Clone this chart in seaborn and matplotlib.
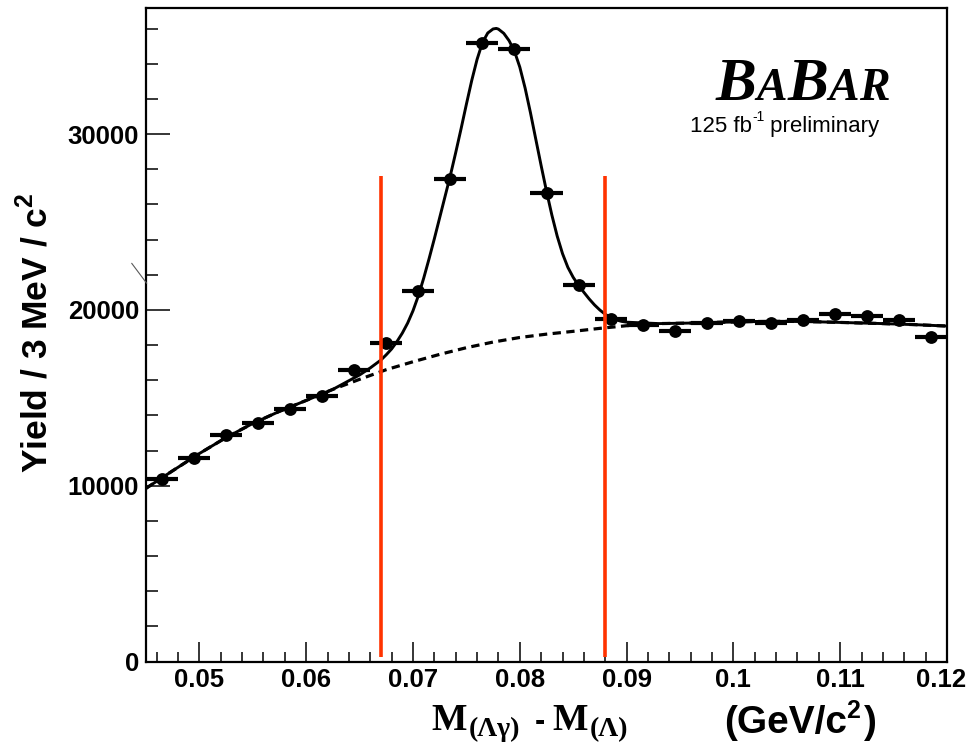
import numpy as np
import pandas as pd
import matplotlib
matplotlib.use('Agg')
import matplotlib.pyplot as plt
from matplotlib.ticker import MultipleLocator
from matplotlib.transforms import IdentityTransform, ScaledTranslation
from matplotlib.lines import Line2D
import seaborn as sns

# --- values ---
bin_centers = [0.0465, 0.0495, 0.0525, 0.0555, 0.0585, 0.0615, 0.0645, 0.0675,
               0.0705, 0.0735, 0.0765, 0.0795, 0.0825, 0.0855, 0.0885, 0.0915,
               0.0945, 0.0975, 0.1005, 0.1035, 0.1065, 0.1095, 0.1125, 0.1155, 0.1185]
yields = [10390, 11580, 12890, 13590, 14360, 15120, 16590, 18110,
          21100, 27420, 35200, 34820, 26660, 21410, 19510, 19130,
          18800, 19230, 19370, 19230, 19450, 19760, 19660, 19450, 18430]
bin_half_width = 0.0015

# fitted total (signal + background), solid curve
fit_x = [0.0450, 0.0475, 0.0500, 0.0525, 0.0550, 0.0575, 0.0600, 0.0625, 0.0650,
         0.0660, 0.0670, 0.0675, 0.0680, 0.0685, 0.0690, 0.0695, 0.0700, 0.0705,
         0.0710, 0.0715, 0.0720, 0.0725, 0.0730, 0.0735, 0.0740, 0.0745, 0.0750,
         0.0755, 0.0760, 0.0765, 0.0770, 0.0775, 0.0778, 0.0780, 0.0785, 0.0790,
         0.0795, 0.0800, 0.0805, 0.0810, 0.0815, 0.0820, 0.0825, 0.0830, 0.0835,
         0.0840, 0.0845, 0.0850, 0.0855, 0.0860, 0.0865, 0.0870, 0.0875, 0.0880,
         0.0885, 0.0890, 0.0895, 0.0900, 0.0930, 0.0960, 0.0990, 0.1020, 0.1050,
         0.1080, 0.1110, 0.1140, 0.1170, 0.1200]
fit_total = [9850, 10850, 11830, 12740, 13540, 14230, 14850, 15480, 16300,
             16700, 17150, 17450, 17780, 18200, 18680, 19250, 19950, 20800,
             21800, 22900, 24050, 25250, 26450, 27650, 28950, 30300, 31700,
             33050, 34250, 35200, 35750, 35980, 36010, 35970, 35730, 35310,
             34710, 33810, 32610, 31210, 29700, 28200, 26750, 25400, 24200,
             23200, 22420, 21850, 21400, 21000, 20620, 20280, 19990, 19750,
             19570, 19440, 19350, 19300, 19220, 19250, 19300, 19340, 19350,
             19320, 19270, 19220, 19160, 19080]

# background only, dashed curve
bkg_x = [0.045, 0.0475, 0.05, 0.0525, 0.055, 0.0575, 0.06, 0.0625, 0.065, 0.0675,
         0.07, 0.0725, 0.075, 0.0775, 0.08, 0.0825, 0.085, 0.0875, 0.09, 0.093,
         0.096, 0.099, 0.102, 0.105, 0.108, 0.111, 0.114, 0.117, 0.12]
bkg_vals = [9850, 10850, 11830, 12740, 13540, 14230, 14850, 15480, 16050, 16600,
            17050, 17470, 17850, 18170, 18430, 18620, 18780, 18950, 19100, 19220,
            19250, 19300, 19340, 19350, 19320, 19270, 19220, 19160, 19080]

# signal window cuts
cut_positions = [0.067, 0.088]
cut_bottom, cut_top = 250, 27600

x_ticks = [0.05, 0.06, 0.07, 0.08, 0.09, 0.10, 0.11, 0.12]
x_tick_labels = ['0.05', '0.06', '0.07', '0.08', '0.09', '0.1', '0.11', '0.12']
y_ticks = [0, 10000, 20000, 30000]
y_tick_labels = ['0', '10000', '20000', '30000']

# --- style ---
sns.set_theme(style='ticks')
plt.rcParams['font.family'] = ['Liberation Sans', 'DejaVu Sans']
plt.rcParams['mathtext.fontset'] = 'custom'
plt.rcParams['mathtext.bf'] = 'Liberation Sans:bold'
plt.rcParams['mathtext.rm'] = 'Liberation Sans:bold'

W, H = 970, 756
fig = plt.figure(figsize=(W / 100, H / 100), dpi=100)
fig.patch.set_facecolor('white')
ax = fig.add_axes([146 / W, 1 - 661.5 / H, (947 - 146) / W, (661.5 - 7.5) / H])
ax.set_facecolor('white')

points = pd.DataFrame({'x': bin_centers, 'y': yields})
fit = pd.DataFrame({'x': fit_x, 'y': fit_total})
bkg = pd.DataFrame({'x': bkg_x, 'y': bkg_vals})

sns.lineplot(data=bkg, x='x', y='y', ax=ax, color='black', lw=2.3,
             linestyle=(0, (2.6, 1.7)), sort=False, zorder=2)
sns.lineplot(data=fit, x='x', y='y', ax=ax, color='black', lw=2.1,
             sort=False, zorder=3)
ax.errorbar(points['x'], points['y'], xerr=bin_half_width, fmt='none',
            ecolor='black', elinewidth=3.0, capsize=0, zorder=4)
sns.scatterplot(data=points, x='x', y='y', ax=ax, color='black', s=85,
                edgecolor='black', linewidth=0, zorder=5)
ax.vlines(cut_positions, cut_bottom, cut_top, color='#ff3300', lw=2.6, zorder=6)

# --- axes ---
ax.set_xlim(0.045, 0.12)
ax.set_ylim(0, 37200)
ax.set_xticks(x_ticks, x_tick_labels)
ax.set_yticks(y_ticks, y_tick_labels)
ax.xaxis.set_minor_locator(MultipleLocator(0.002))
ax.yaxis.set_minor_locator(MultipleLocator(2000))
ax.set_xlabel('')
ax.set_ylabel('')

ax.tick_params(which='both', direction='in', top=False, right=False,
               width=1.1, color='black')
ax.tick_params(axis='x', which='major', length=14.4, pad=5)
ax.tick_params(axis='x', which='minor', length=7.2)
ax.tick_params(axis='y', which='major', length=17, pad=5)
ax.tick_params(axis='y', which='minor', length=8.6)
for lab in ax.get_xticklabels() + ax.get_yticklabels():
    lab.set_fontsize(18.5)
    lab.set_fontweight('bold')
    lab.set_color('black')
# last x label sits against the right edge: nudge it in so it is not clipped
last = ax.get_xticklabels()[-1]
last.set_transform(last.get_transform() + ScaledTranslation(-4 / 72, 0, fig.dpi_scale_trans))
for sp in ax.spines.values():
    sp.set_visible(True)
    sp.set_linewidth(1.6)
    sp.set_color('black')

# --- texts placed in pixel coordinates ---
renderer = fig.canvas.get_renderer()


def put(x, y_from_top, s, **kw):
    t = fig.text(x, H - y_from_top, s, transform=IdentityTransform(),
                 ha='left', va='baseline', color='black', **kw)
    return t.get_window_extent(renderer).x1


serif_b = dict(family='Liberation Serif', weight='bold')
sans_b = dict(family='Liberation Sans', weight='bold')

# x axis title
put(431, 730, 'M', size=27, **serif_b)
put(469, 736, '(\u039b\u03b3)', size=20, **serif_b)
put(535, 730, '-', size=22, **sans_b)
put(552, 730, 'M', size=27, **serif_b)
put(590, 736, '(\u039b)', size=20, **serif_b)
xe = put(724, 733, '(GeV/c', size=28, **sans_b)
xe = put(xe - 1, 718, '2', size=18, **sans_b)
put(xe + 4, 733, ')', size=28, **sans_b)

# y axis title
fig.text(36 / W, 1 - 333 / H, r'Yield / 3 MeV / c$^{\mathbf{2}}$', rotation=90,
         ha='center', va='center', fontsize=25.5, fontweight='bold', color='black')

# BaBar logo
logo = dict(family='Liberation Serif', weight='bold', style='italic')
xl = 716
for ch, size in [('B', 44), ('A', 33), ('B', 44), ('A', 33), ('R', 33)]:
    xl = put(xl, 100, ch, size=size, **logo)

xp = put(690, 132, '125 fb', size=16, family='Liberation Sans')
xp = put(xp, 121, '-1', size=10, family='Liberation Sans')
put(xp, 132, ' preliminary', size=16, family='Liberation Sans')

# small stray stroke left of the axis
fig.add_artist(Line2D([131.7, 146.7], [H - 263.3, H - 283.3],
                      transform=IdentityTransform(), color='0.35', lw=0.8))

fig.savefig('out.png', dpi=100, facecolor='white')
